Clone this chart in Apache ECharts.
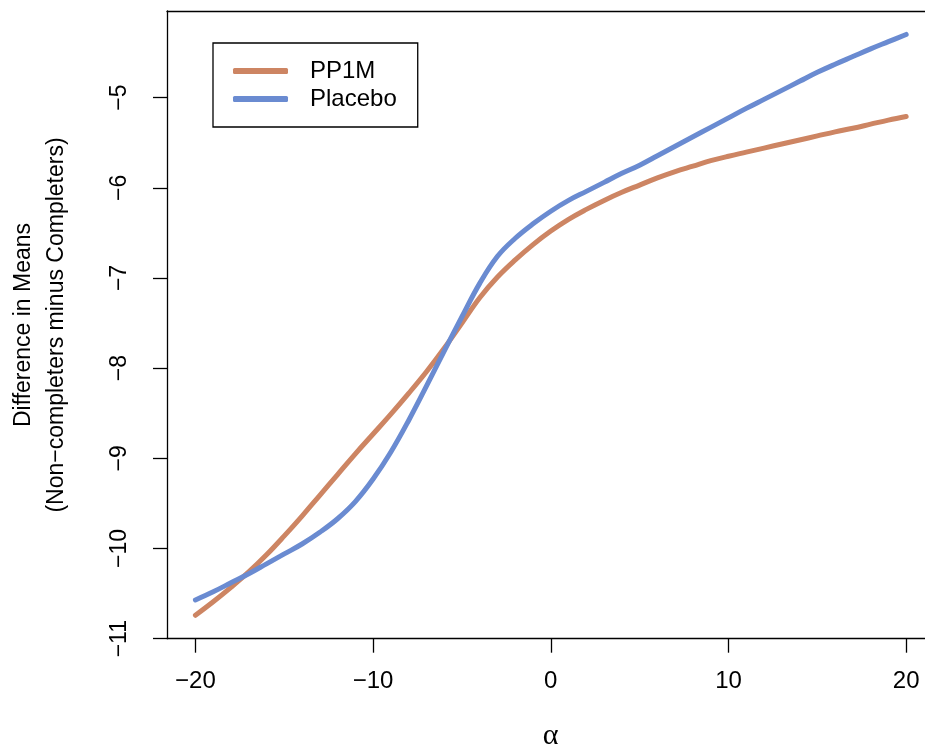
<!DOCTYPE html>
<html>
<head>
<meta charset="utf-8">
<script src="https://cdn.jsdelivr.net/npm/echarts@6/dist/echarts.min.js"></script>
<style>
  html, body { margin: 0; padding: 0; background: #fff; }
  #chart { width: 925px; height: 751px; }
</style>
</head>
<body>
<div id="chart"></div>
<script>
// Sensitivity parameter alpha
const alphaValues = [-20, -19, -18, -17, -16, -15, -14, -13, -12, -11, -10,
  -9, -8, -7, -6, -5, -4, -3, -2, -1, 0, 1, 2, 3, 4, 5, 6, 7, 8, 9, 10,
  11, 12, 13, 14, 15, 16, 17, 18, 19, 20];

// Difference in means (non-completers minus completers)
const pp1m = [-10.74, -10.59, -10.43, -10.26, -10.07, -9.86, -9.64, -9.41, -9.18, -8.95, -8.73,
  -8.51, -8.28, -8.04, -7.78, -7.50, -7.22, -6.99, -6.80, -6.63, -6.48, -6.35, -6.24, -6.14, -6.05, -5.97,
  -5.89, -5.82, -5.76, -5.70, -5.65, -5.605, -5.56, -5.515, -5.47, -5.425, -5.38, -5.34, -5.295, -5.25, -5.21];

const placebo = [-10.57, -10.48, -10.38, -10.28, -10.17, -10.06, -9.95, -9.82, -9.67, -9.48, -9.23,
  -8.93, -8.58, -8.20, -7.81, -7.43, -7.06, -6.76, -6.56, -6.40, -6.26, -6.14, -6.04, -5.94, -5.84, -5.75,
  -5.645, -5.54, -5.435, -5.33, -5.225, -5.12, -5.02, -4.92, -4.82, -4.72, -4.63, -4.545, -4.46, -4.38, -4.30];

const xTicks = [-20, -10, 0, 10, 20];
const yTicks = [-11, -10, -9, -8, -7, -6, -5];

const seriesNames = ['PP1M', 'Placebo'];
const seriesColors = ['#CD8563', '#6A8BD1'];

const pairs = (ys) => alphaValues.map((a, i) => [a, ys[i]]);
const fmt = (v) => String(v).replace('-', '\u2212');

const chart = echarts.init(document.getElementById('chart'), null, { renderer: 'canvas' });

const font = '"Liberation Sans", Arial, Helvetica, sans-serif';
const frame = { color: '#000', width: 1.3 };
const xMin = -21.6, xMax = 21.06;

chart.setOption({
  animation: false,
  backgroundColor: '#fff',
  grid: { left: 167, top: 11, right: 0, bottom: 112.3, show: false },
  xAxis: [
    {
      type: 'value', position: 'bottom',
      min: xMin, max: xMax,
      axisLine: { show: true, onZero: false, lineStyle: frame },
      splitLine: { show: false },
      axisTick: { show: true, inside: false, length: 14, customValues: xTicks, lineStyle: frame },
      axisLabel: { show: true, customValues: xTicks, margin: 31, formatter: fmt,
        color: '#000', fontSize: 24, fontFamily: font }
    },
    {
      // upper edge of the plot frame
      type: 'value', position: 'top',
      min: xMin, max: xMax,
      axisLine: { show: true, onZero: false, lineStyle: frame },
      splitLine: { show: false },
      axisTick: { show: false },
      axisLabel: { show: false }
    }
  ],
  yAxis: {
    type: 'value',
    min: -11, max: -4.04,
    axisLine: { show: true, onZero: false, lineStyle: frame },
    splitLine: { show: false },
    axisTick: { show: true, inside: false, length: 14, customValues: yTicks, lineStyle: frame },
    axisLabel: { show: true, customValues: yTicks, margin: 36, rotate: 90, formatter: fmt,
      color: '#000', fontSize: 23, fontFamily: font }
  },
  legend: {
    data: seriesNames.map((n, i) => ({ name: n, icon: 'roundRect', itemStyle: { color: seriesColors[i] } })),
    left: 213, top: 43, orient: 'vertical',
    borderColor: '#000', borderWidth: 1.3, borderRadius: 0,
    padding: [15, 21, 15, 20],
    itemWidth: 55, itemHeight: 6, itemGap: 2,
    textStyle: { color: '#000', fontSize: 24, lineHeight: 26, fontFamily: font, padding: [0, 0, 0, 17] }
  },
  graphic: [
    {
      type: 'text', x: 40, y: 325, rotation: Math.PI / 2,
      style: {
        text: 'Difference in Means\n(Non\u2212completers minus Completers)',
        align: 'center', verticalAlign: 'middle', lineHeight: 33,
        font: '23px ' + font, fill: '#000'
      }
    },
    {
      type: 'text', x: 550.6, y: 736,
      style: {
        text: '\u03b1', align: 'center', verticalAlign: 'middle',
        font: '30px "Liberation Serif", "Times New Roman", serif', fill: '#000'
      }
    }
  ],
  series: [
    {
      name: seriesNames[0], type: 'line', data: pairs(pp1m),
      showSymbol: false, smooth: 0.4,
      itemStyle: { color: seriesColors[0] },
      lineStyle: { color: seriesColors[0], width: 5, cap: 'round', join: 'round' }
    },
    {
      name: seriesNames[1], type: 'line', data: pairs(placebo),
      showSymbol: false, smooth: 0.4,
      itemStyle: { color: seriesColors[1] },
      lineStyle: { color: seriesColors[1], width: 5, cap: 'round', join: 'round' }
    }
  ]
});
</script>
</body>
</html>
